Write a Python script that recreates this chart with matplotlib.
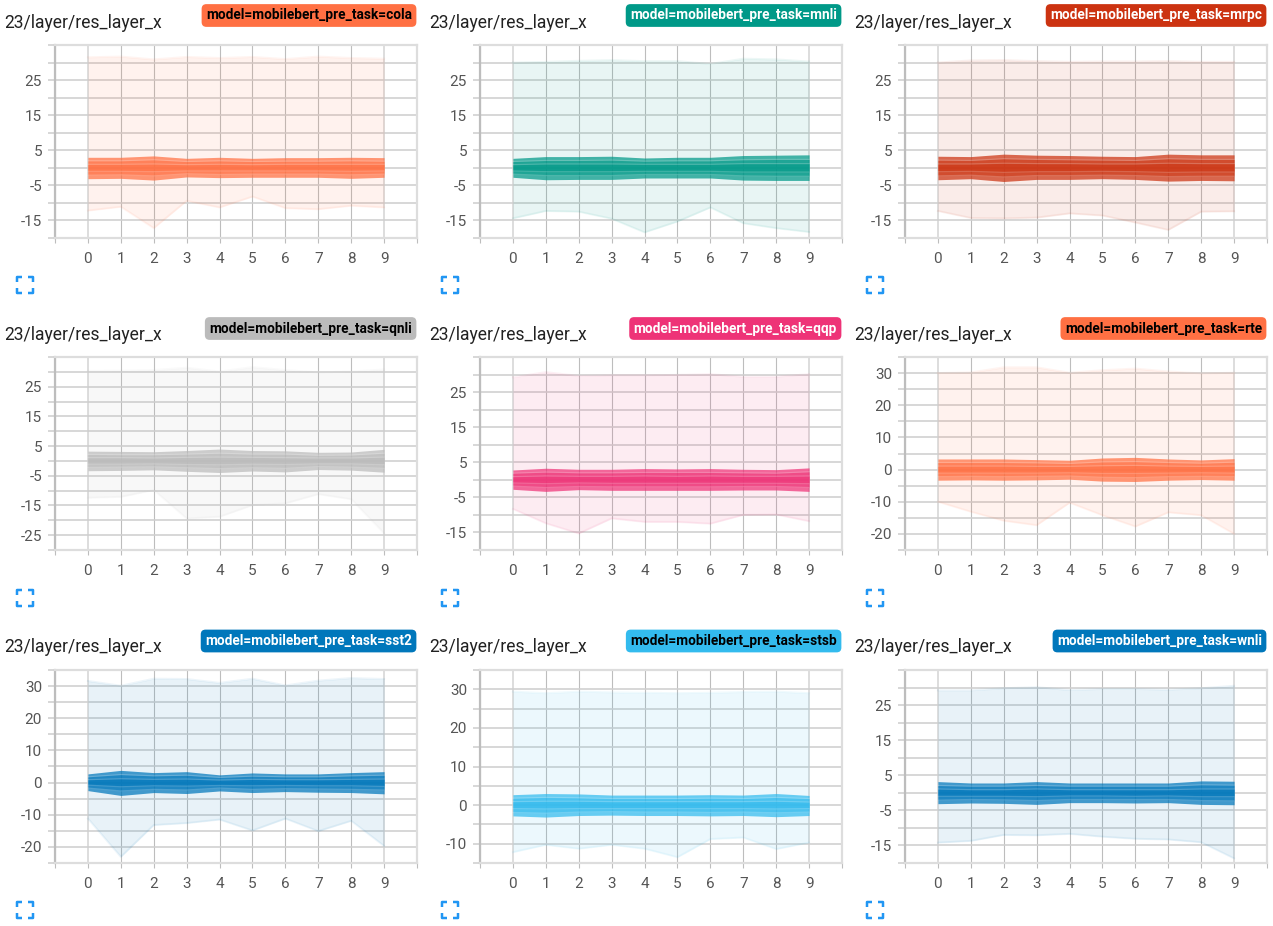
import matplotlib
matplotlib.use('Agg')
import matplotlib.pyplot as plt
from matplotlib.lines import Line2D

plt.rcParams['font.family'] = ['Roboto', 'DejaVu Sans']

FIG_W, FIG_H = 1273, 926

steps = [0, 1, 2, 3, 4, 5, 6, 7, 8, 9]
x_ticks = [-1, 0, 1, 2, 3, 4, 5, 6, 7, 8, 9, 10]
x_labels = ['', '0', '1', '2', '3', '4', '5', '6', '7', '8', '9', '']

# Max, then the percentile lines, then min, for each task.
cola_max = [31.5, 31.7, 30.9, 31.6, 31.3, 31.6, 31.0, 31.7, 31.3, 31.1]
cola_p93 = [3.0, 3.0, 3.4, 2.7, 3.0, 2.7, 2.9, 2.9, 3.0, 2.9]
cola_p84 = [2.0, 2.0, 2.3, 1.8, 2.0, 1.8, 1.9, 1.9, 2.0, 1.9]
cola_p69 = [1.0, 1.0, 1.1, 0.9, 1.0, 0.9, 1.0, 1.0, 1.0, 1.0]
cola_p50 = [0.0, 0.0, 0.0, 0.0, 0.1, 0.0, 0.0, 0.0, 0.0, 0.1]
cola_p31 = [-1.0, -1.0, -1.1, -0.9, -0.9, -0.9, -0.9, -0.9, -1.0, -0.9]
cola_p16 = [-2.1, -2.0, -2.3, -1.7, -1.9, -1.8, -1.8, -1.8, -2.0, -1.8]
cola_p07 = [-3.1, -3.0, -3.5, -2.6, -2.8, -2.7, -2.7, -2.7, -3.0, -2.7]
cola_min = [-12.2, -11.1, -17.2, -9.4, -11.3, -8.2, -11.5, -11.8, -10.8, -11.3]

mnli_max = [30.0, 30.2, 30.5, 30.7, 30.4, 30.4, 29.6, 31.1, 30.9, 30.3]
mnli_p93 = [2.7, 3.2, 3.2, 3.3, 2.8, 3.0, 3.0, 3.5, 3.6, 3.7]
mnli_p84 = [1.8, 2.1, 2.1, 2.2, 1.9, 2.0, 2.0, 2.3, 2.4, 2.4]
mnli_p69 = [0.9, 1.1, 1.1, 1.1, 1.0, 1.0, 1.0, 1.2, 1.2, 1.2]
mnli_p50 = [0.0, 0.0, 0.0, 0.0, 0.0, 0.0, 0.0, 0.0, 0.0, 0.0]
mnli_p31 = [-0.9, -1.1, -1.1, -1.1, -1.0, -1.0, -1.0, -1.2, -1.2, -1.2]
mnli_p16 = [-1.8, -2.2, -2.2, -2.2, -1.9, -1.9, -1.9, -2.3, -2.4, -2.4]
mnli_p07 = [-2.7, -3.4, -3.3, -3.3, -2.9, -2.9, -2.9, -3.5, -3.6, -3.6]
mnli_min = [-14.4, -12.3, -12.5, -14.5, -18.4, -15.3, -11.3, -15.8, -17.2, -18.3]

mrpc_max = [30.0, 30.6, 30.7, 30.4, 30.2, 30.3, 30.3, 30.4, 30.2, 30.2]
mrpc_p93 = [3.3, 3.2, 3.9, 3.6, 3.5, 3.3, 3.2, 3.9, 3.7, 3.7]
mrpc_p84 = [2.2, 2.1, 2.6, 2.4, 2.3, 2.2, 2.1, 2.6, 2.4, 2.4]
mrpc_p69 = [1.1, 1.1, 1.3, 1.2, 1.2, 1.1, 1.1, 1.3, 1.2, 1.2]
mrpc_p50 = [0.0, 0.0, 0.0, 0.0, 0.0, 0.0, 0.0, 0.0, 0.0, 0.0]
mrpc_p31 = [-1.1, -1.0, -1.3, -1.1, -1.1, -1.0, -1.1, -1.3, -1.2, -1.2]
mrpc_p16 = [-2.3, -2.1, -2.6, -2.2, -2.2, -2.1, -2.2, -2.5, -2.4, -2.4]
mrpc_p07 = [-3.4, -3.1, -3.9, -3.3, -3.3, -3.1, -3.3, -3.8, -3.6, -3.7]
mrpc_min = [-12.3, -14.3, -14.4, -14.2, -13.0, -13.6, -15.6, -17.7, -12.5, -12.4]

qnli_max = [30.3, 30.4, 30.6, 31.4, 30.1, 31.6, 30.6, 29.8, 30.1, 30.8]
qnli_p93 = [3.3, 3.2, 3.1, 3.5, 4.0, 3.5, 3.4, 2.9, 3.0, 3.9]
qnli_p84 = [2.2, 2.1, 2.1, 2.3, 2.6, 2.3, 2.3, 1.9, 2.0, 2.6]
qnli_p69 = [1.1, 1.1, 1.0, 1.2, 1.3, 1.2, 1.1, 1.0, 1.0, 1.3]
qnli_p50 = [0.0, 0.0, 0.0, 0.0, 0.0, 0.0, 0.0, 0.0, 0.0, 0.0]
qnli_p31 = [-1.1, -1.1, -1.0, -1.2, -1.3, -1.1, -1.2, -1.0, -1.0, -1.3]
qnli_p16 = [-2.2, -2.1, -2.0, -2.3, -2.6, -2.3, -2.5, -1.9, -2.1, -2.5]
qnli_p07 = [-3.3, -3.2, -3.0, -3.5, -3.9, -3.4, -3.7, -2.9, -3.1, -3.8]
qnli_min = [-12.4, -12.1, -9.8, -19.4, -18.8, -14.9, -14.3, -11.2, -12.9, -24.4]

qqp_max = [29.2, 30.7, 29.6, 29.8, 29.8, 29.9, 30.1, 29.4, 29.4, 30.1]
qqp_p93 = [2.8, 3.3, 3.0, 3.0, 3.2, 3.1, 3.2, 3.0, 2.9, 3.4]
qqp_p84 = [1.9, 2.2, 2.0, 2.0, 2.1, 2.1, 2.1, 2.0, 1.9, 2.3]
qqp_p69 = [0.9, 1.1, 1.0, 1.0, 1.1, 1.0, 1.1, 1.0, 1.0, 1.1]
qqp_p50 = [0.0, 0.0, 0.0, 0.0, 0.0, 0.0, 0.0, 0.0, 0.0, 0.0]
qqp_p31 = [-0.9, -1.1, -0.9, -1.0, -1.0, -1.0, -1.0, -1.0, -1.0, -1.1]
qqp_p16 = [-1.8, -2.2, -1.9, -2.0, -2.0, -2.0, -2.0, -1.9, -1.9, -2.2]
qqp_p07 = [-2.7, -3.3, -2.8, -3.0, -3.0, -3.0, -3.0, -2.9, -2.9, -3.3]
qqp_min = [-8.3, -12.4, -15.3, -11.0, -12.0, -12.0, -12.5, -10.0, -9.9, -11.8]

rte_max = [30.0, 30.2, 31.8, 31.8, 30.1, 30.9, 31.4, 30.5, 29.9, 30.1]
rte_p93 = [3.3, 3.3, 3.3, 3.1, 2.9, 3.6, 3.8, 3.3, 3.0, 3.4]
rte_p84 = [2.2, 2.2, 2.2, 2.1, 1.9, 2.4, 2.5, 2.2, 2.0, 2.3]
rte_p69 = [1.1, 1.1, 1.1, 1.0, 1.0, 1.2, 1.3, 1.1, 1.0, 1.1]
rte_p50 = [0.0, 0.0, 0.0, 0.0, 0.0, 0.0, 0.0, 0.0, 0.0, 0.0]
rte_p31 = [-1.1, -1.1, -1.1, -1.1, -1.0, -1.2, -1.2, -1.1, -1.0, -1.1]
rte_p16 = [-2.2, -2.1, -2.2, -2.1, -2.0, -2.4, -2.5, -2.2, -2.1, -2.2]
rte_p07 = [-3.3, -3.2, -3.3, -3.2, -3.0, -3.6, -3.7, -3.3, -3.1, -3.3]
rte_min = [-10.0, -13.1, -15.9, -17.3, -10.3, -14.2, -17.7, -13.3, -14.2, -20.0]

sst2_max = [31.6, 30.1, 32.3, 32.2, 31.0, 32.3, 30.2, 31.7, 32.5, 32.2]
sst2_p93 = [2.7, 3.8, 3.1, 3.4, 2.4, 3.0, 2.7, 2.7, 3.1, 3.4]
sst2_p84 = [1.8, 2.5, 2.1, 2.3, 1.6, 2.0, 1.8, 1.8, 2.1, 2.3]
sst2_p69 = [0.9, 1.2, 1.0, 1.1, 0.8, 1.0, 0.9, 0.9, 1.0, 1.1]
sst2_p50 = [0.0, 0.0, 0.0, 0.0, 0.0, 0.0, 0.0, 0.0, 0.0, 0.0]
sst2_p31 = [-0.8, -1.3, -1.0, -1.1, -0.9, -1.0, -0.9, -1.0, -1.0, -1.2]
sst2_p16 = [-1.7, -2.6, -2.1, -2.3, -1.7, -2.1, -1.9, -2.0, -2.1, -2.3]
sst2_p07 = [-2.5, -4.0, -3.1, -3.4, -2.6, -3.1, -2.8, -3.0, -3.1, -3.5]
sst2_min = [-11.2, -23.1, -13.2, -12.6, -11.5, -14.9, -11.2, -15.1, -11.9, -19.7]

stsb_max = [29.4, 29.0, 29.4, 29.2, 29.1, 29.0, 29.1, 29.3, 29.4, 29.0]
stsb_p93 = [2.7, 3.0, 2.9, 2.6, 2.6, 2.6, 2.7, 2.6, 3.0, 2.5]
stsb_p84 = [1.8, 2.0, 1.9, 1.7, 1.7, 1.7, 1.8, 1.7, 2.0, 1.7]
stsb_p69 = [0.9, 1.0, 1.0, 0.9, 0.9, 0.9, 0.9, 0.9, 1.0, 0.8]
stsb_p50 = [0.0, 0.0, 0.0, 0.0, 0.0, 0.0, 0.0, 0.0, 0.0, 0.0]
stsb_p31 = [-0.9, -1.0, -0.9, -0.9, -0.9, -0.9, -0.9, -0.9, -1.0, -0.9]
stsb_p16 = [-1.9, -2.1, -1.8, -1.7, -1.8, -1.8, -1.9, -1.8, -2.0, -1.8]
stsb_p07 = [-2.8, -3.1, -2.7, -2.6, -2.7, -2.7, -2.8, -2.7, -3.0, -2.7]
stsb_min = [-12.2, -10.3, -11.3, -10.3, -11.3, -13.5, -8.8, -8.4, -11.4, -9.7]

wnli_max = [29.2, 29.2, 29.8, 30.1, 29.3, 29.6, 29.6, 29.4, 29.8, 30.5]
wnli_p93 = [3.2, 2.8, 2.8, 3.2, 2.8, 2.8, 2.8, 2.8, 3.4, 3.3]
wnli_p84 = [2.1, 1.9, 1.9, 2.1, 1.9, 1.9, 1.9, 1.9, 2.3, 2.2]
wnli_p69 = [1.1, 0.9, 0.9, 1.1, 0.9, 0.9, 0.9, 0.9, 1.1, 1.1]
wnli_p50 = [0.0, 0.0, 0.0, 0.0, 0.0, 0.0, 0.0, 0.0, 0.0, 0.0]
wnli_p31 = [-1.0, -1.0, -1.0, -1.1, -0.9, -0.9, -1.0, -0.9, -1.1, -1.1]
wnli_p16 = [-2.1, -1.9, -2.0, -2.2, -1.9, -1.9, -1.9, -1.9, -2.2, -2.3]
wnli_p07 = [-3.1, -2.9, -3.0, -3.3, -2.8, -2.8, -2.9, -2.8, -3.3, -3.4]
wnli_min = [-14.2, -13.7, -12.0, -12.1, -11.7, -12.5, -13.1, -13.3, -14.1, -18.7]

cola = [cola_max, cola_p93, cola_p84, cola_p69, cola_p50, cola_p31, cola_p16, cola_p07, cola_min]
mnli = [mnli_max, mnli_p93, mnli_p84, mnli_p69, mnli_p50, mnli_p31, mnli_p16, mnli_p07, mnli_min]
mrpc = [mrpc_max, mrpc_p93, mrpc_p84, mrpc_p69, mrpc_p50, mrpc_p31, mrpc_p16, mrpc_p07, mrpc_min]
qnli = [qnli_max, qnli_p93, qnli_p84, qnli_p69, qnli_p50, qnli_p31, qnli_p16, qnli_p07, qnli_min]
qqp = [qqp_max, qqp_p93, qqp_p84, qqp_p69, qqp_p50, qqp_p31, qqp_p16, qqp_p07, qqp_min]
rte = [rte_max, rte_p93, rte_p84, rte_p69, rte_p50, rte_p31, rte_p16, rte_p07, rte_min]
sst2 = [sst2_max, sst2_p93, sst2_p84, sst2_p69, sst2_p50, sst2_p31, sst2_p16, sst2_p07, sst2_min]
stsb = [stsb_max, stsb_p93, stsb_p84, stsb_p69, stsb_p50, stsb_p31, stsb_p16, stsb_p07, stsb_min]
wnli = [wnli_max, wnli_p93, wnli_p84, wnli_p69, wnli_p50, wnli_p31, wnli_p16, wnli_p07, wnli_min]

task_names = ['cola', 'mnli', 'mrpc', 'qnli', 'qqp', 'rte', 'sst2', 'stsb', 'wnli']
task_series = [cola, mnli, mrpc, qnli, qqp, rte, sst2, stsb, wnli]
task_colors = ['#ff7043', '#009988', '#cc3311', '#bbbbbb', '#ee3377', '#ff7043', '#0077bb', '#33bbee', '#0077bb']
tag_text_colors = ['black', 'white', 'white', 'black', 'white', 'black', 'white', 'black', 'white']
y_limits = [(-20, 35), (-20, 35), (-20, 35), (-30, 35), (-20, 35), (-25, 35), (-25, 35), (-15, 35), (-20, 35)]

# Pixel layout of the three by three grid.
col_left = [55, 480, 905]
col_right = [417, 842, 1267]
row_top = [45, 357, 670]
row_bottom = [238, 550, 863]
title_y = [23, 335, 647]
tag_y = [15.5, 328.5, 641]
icon_top = [277, 590, 902]

LIGHT = '#dddddd'
MID = '#bdbdbd'
TEXT = '#555555'
PX = 0.72

fig = plt.figure(figsize=(FIG_W / 100, FIG_H / 100), dpi=100)


def fig_x(px):
    return px / FIG_W


def fig_y(px):
    return 1 - px / FIG_H


def draw_icon(left, top, size=16, arm=5):
    # Little fullscreen corners under each chart.
    right = left + size
    bottom = top + size
    corners = [
        ([left, left, left + arm], [top + arm, top, top]),
        ([right - arm, right, right], [top, top, top + arm]),
        ([left, left, left + arm], [bottom - arm, bottom, bottom]),
        ([right - arm, right, right], [bottom, bottom, bottom - arm]),
    ]
    for xs, ys in corners:
        fig.add_artist(Line2D([fig_x(v) for v in xs], [fig_y(v) for v in ys],
                              color='#2196f3', lw=2.5 * PX, solid_capstyle='butt'))


for i, name in enumerate(task_names):
    row, col = divmod(i, 3)
    left, right = col_left[col], col_right[col]
    top, bottom = row_top[row], row_bottom[row]
    color = task_colors[i]
    series = task_series[i]
    y_min, y_max = y_limits[i]

    ax = fig.add_axes([fig_x(left), fig_y(bottom), (right - left) / FIG_W, (bottom - top) / FIG_H])
    ax.set_xlim(-1, 10)
    ax.set_ylim(y_min, y_max)

    # Gridlines and ticks. Labels skip every other tick and the top one.
    y_ticks = list(range(y_min, y_max + 1, 5))
    ax.set_xticks(x_ticks)
    ax.set_xticklabels(x_labels)
    ax.set_yticks(y_ticks)
    ax.set_yticklabels([str(v) if k % 2 == 1 and v != y_max else '' for k, v in enumerate(y_ticks)])
    ax.grid(True, axis='y', color='#cfcfcf', lw=1.6 * PX, zorder=0)
    ax.grid(True, axis='x', color=MID, lw=1.1 * PX, zorder=0)
    ax.set_axisbelow(True)
    ax.tick_params(axis='y', length=7 * PX, width=1.6 * PX, color='#cfcfcf', labelsize=11,
                   labelcolor=TEXT, pad=6 * PX)
    ax.tick_params(axis='x', length=5 * PX, width=1.1 * PX, color=MID, labelsize=11,
                   labelcolor=TEXT, pad=9 * PX)
    for gl in (ax.get_xgridlines()[1], ax.get_xgridlines()[10]):
        gl.set_color(LIGHT)
        gl.set_linewidth(2 * PX)

    for side in ('top', 'right', 'bottom'):
        ax.spines[side].set_color(LIGHT)
        ax.spines[side].set_linewidth(2.2 * PX)
    ax.spines['left'].set_color('#bdbdbd')
    ax.spines['left'].set_linewidth(2.2 * PX)

    # Outer envelope, very faint, with a faint edge.
    ax.fill_between(steps, series[8], series[0], color=color, alpha=0.09, lw=0, zorder=2)
    ax.plot(steps, series[0], color=color, alpha=0.07, lw=2 * PX, zorder=2)
    ax.plot(steps, series[8], color=color, alpha=0.07, lw=2 * PX, zorder=2)

    # Nested percentile bands stack up towards the solid centre.
    for upper, lower, band_alpha in ((1, 7, 0.72), (2, 6, 0.5), (3, 5, 0.5)):
        ax.fill_between(steps, series[lower], series[upper], color=color, alpha=band_alpha, lw=0, zorder=3)
    # Paler stripes where the bands meet.
    for k in (2, 3, 5, 6):
        ax.plot(steps, series[k], color='white', alpha=0.2, lw=1.2 * PX, zorder=4)

    # Title on the left, rounded run tag on the right.
    fig.text(fig_x(4.5 + 425 * col), fig_y(title_y[row]), '23/layer/res_layer_x',
             fontsize=12.65, color='#212121', va='center', ha='left')
    fig.text(fig_x(right - 5), fig_y(tag_y[row]), 'model=mobilebert_pre_task=' + name,
             fontsize=9.85, fontweight='bold', color=tag_text_colors[i], va='center', ha='right',
             bbox=dict(boxstyle='round,pad=0.32,rounding_size=0.35', fc=color, ec='none'))

    draw_icon(17 + 425 * col, icon_top[row])

fig.savefig('out.png', dpi=100)
